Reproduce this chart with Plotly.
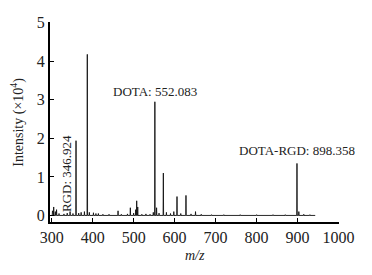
import plotly.graph_objects as go

# peak list (m/z, intensity in 1e4 units)
peak_mz = [302, 305, 309, 312, 318, 330, 338, 345, 352, 359.5, 366, 372, 380, 387, 392, 402, 408, 414, 425, 440,
           462, 470, 485, 492, 500, 505, 507.5, 510, 520, 530, 540, 548, 551.8, 556, 562, 572.5, 580, 590, 598,
           605.8, 615, 627.7, 640, 651, 665, 690, 720, 760, 800, 840, 870, 898.5, 903, 915, 930]
peak_int = [0.12, 0.22, 0.10, 0.15, 0.05, 0.04, 0.06, 0.10, 0.05, 1.94, 0.06, 0.08, 0.10, 4.18, 0.08, 0.07, 0.05,
            0.05, 0.03, 0.03, 0.12, 0.03, 0.04, 0.20, 0.06, 0.15, 0.38, 0.22, 0.03, 0.04, 0.03, 0.08, 2.95, 0.20,
            0.06, 1.10, 0.08, 0.05, 0.10, 0.49, 0.05, 0.52, 0.04, 0.10, 0.03, 0.02, 0.02, 0.02, 0.02, 0.02, 0.02,
            1.35, 0.10, 0.03, 0.02]
mz_start, mz_end = 300, 943

x_ticks = [300, 400, 500, 600, 700, 800, 900, 1000]
y_ticks = [0, 1, 2, 3, 4, 5]

labels = ["RGD: 346.924", "DOTA: 552.083", "DOTA-RGD: 898.358"]
x_title = "<i>m/z</i>"
y_title = "Intensity (×10<sup>4</sup>)"

# build stick spectrum
xs, ys = [mz_start], [0]
for m, h in zip(peak_mz, peak_int):
    xs += [m - 0.6, m, m + 0.6]
    ys += [0, h, 0]
xs.append(mz_end)
ys.append(0)

fig = go.Figure()
fig.add_trace(go.Scatter(x=xs, y=ys, mode="lines", line=dict(color="#111", width=0.9), hoverinfo="skip"))

serif = "Liberation Serif, Times New Roman, serif"
txt = "#222"
fig.add_annotation(x=338, y=1.08, text=labels[0], textangle=-90, showarrow=False,
                   font=dict(family=serif, size=13, color=txt))
fig.add_annotation(x=551.8, y=3.22, text=labels[1], showarrow=False,
                   font=dict(family=serif, size=13, color=txt))
fig.add_annotation(x=898.5, y=1.68, text=labels[2], showarrow=False,
                   font=dict(family=serif, size=13, color=txt))
# axis titles
fig.add_annotation(xref="paper", yref="paper", x=0.5, y=-0.165, yanchor="middle", text=x_title,
                   showarrow=False, font=dict(family=serif, size=14, color=txt))
fig.add_annotation(xref="paper", yref="paper", x=-0.115, xanchor="center", y=0.5, text=y_title,
                   textangle=-90, showarrow=False, font=dict(family=serif, size=14, color=txt))

fig.update_layout(
    width=364, height=267,
    margin=dict(l=42, r=33, t=14, b=53),
    paper_bgcolor="white", plot_bgcolor="white",
    showlegend=False,
    font=dict(family=serif, color=txt),
    xaxis=dict(range=[296, 1001], tickvals=x_ticks, ticks="inside", ticklen=4, tickwidth=1,
               tickcolor="black", showline=True, linecolor="black", linewidth=2, showgrid=False,
               zeroline=False, tickfont=dict(size=16, family=serif, color=txt), automargin=False),
    yaxis=dict(range=[-0.17, 5.02], tickvals=y_ticks, ticks="inside", ticklen=4, tickwidth=1,
               tickcolor="black", showline=True, linecolor="black", linewidth=2, showgrid=False,
               zeroline=False, tickfont=dict(size=16, family=serif, color=txt), automargin=False),
)

fig.write_html("out.html")
